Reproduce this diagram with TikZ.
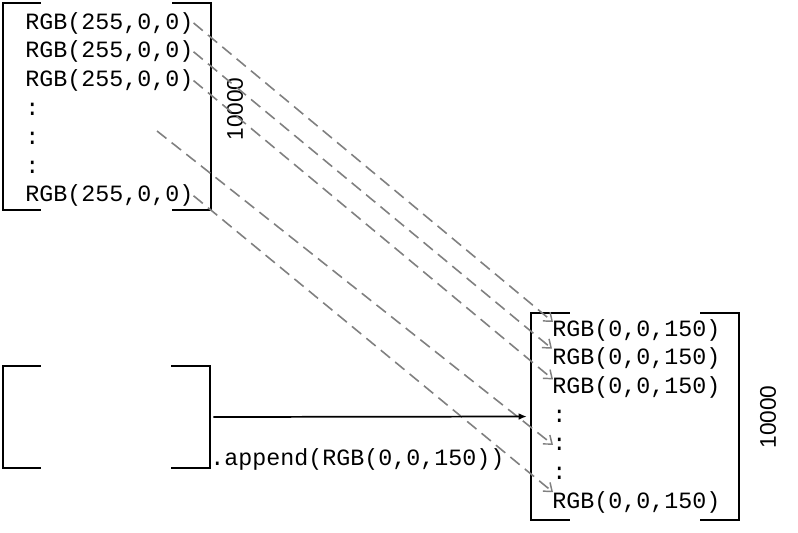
\documentclass[tikz,border=0pt]{standalone}
\usepackage{fontspec}
\setmonofont{Liberation Mono}
\setsansfont{Liberation Sans}
\usetikzlibrary{arrows.meta,fit,calc}
\tikzset{
  code/.style={anchor=base west, inner sep=0pt, font=\fontsize{17.5}{21}\selectfont\ttfamily, text=black},
  count/.style={inner sep=0pt, rotate=90, font=\fontsize{17}{20}\selectfont\sffamily},
  area/.style={inner sep=0pt},
  bracket/.style={line width=1.6pt, black, line cap=rect},
  copyarrow/.style={draw=gray, line width=1.2pt, dash pattern=on 9pt off 5pt,
     -{Straight Barb[length=5.5pt,width=8.5pt,line width=1.1pt]}},
  pusharrow/.style={draw=black, line width=1.3pt, -{Latex[length=6pt,width=5pt]}},
}
\begin{document}
\begin{tikzpicture}[x=0.75pt,y=-0.75pt]
\useasboundingbox (0,0) rectangle (798,532);

% containers
\node[area, fit={(3,3) (211,210)}] (TL) {};
\node[area, fit={(3,366.5) (210,467.5)}] (BL) {};
\node[area, fit={(531,313) (739,520)}] (RB) {};

% brackets (tick length about 37px = 27.75pt)
\draw[bracket] ([xshift=27.75pt]TL.north west) -- (TL.north west) -- (TL.south west) -- ([xshift=27.75pt]TL.south west);
\draw[bracket] ([xshift=-28.5pt]TL.north east) -- (TL.north east) -- (TL.south east) -- ([xshift=-28.5pt]TL.south east);
\draw[bracket] ([xshift=27.75pt]BL.north west) -- (BL.north west) -- (BL.south west) -- ([xshift=27.75pt]BL.south west);
\draw[bracket] ([xshift=-28.5pt]BL.north east) -- (BL.north east) -- (BL.south east) -- ([xshift=-28.5pt]BL.south east);
\draw[bracket] ([xshift=28.5pt]RB.north west) -- (RB.north west) -- (RB.south west) -- ([xshift=28.5pt]RB.south west);
\draw[bracket] ([xshift=-28.5pt]RB.north east) -- (RB.north east) -- (RB.south east) -- ([xshift=-28.5pt]RB.south east);

% left list
\node[code] (l1) at (25,29) {RGB(255,0,0)};
\node[code] (l2) at (25,57.8) {RGB(255,0,0)};
\node[code] (l3) at (25,86.6) {RGB(255,0,0)};
\node[code] (l4) at (25,115.4) {:};
\node[code] (l5) at (25,144.2) {:};
\node[code] (l6) at (25,173) {:};
\node[code] (l7) at (25,201.8) {RGB(255,0,0)};
\node[count] (n1) at (235,109) {10000};

% right list
\node[code] (r1) at (552,336) {RGB(0,0,150)};
\node[code] (r2) at (552,364.7) {RGB(0,0,150)};
\node[code] (r3) at (552,393.4) {RGB(0,0,150)};
\node[code] (r4) at (552,422.1) {:};
\node[code] (r5) at (552,450.8) {:};
\node[code] (r6) at (552,479.5) {:};
\node[code] (r7) at (552,508.2) {RGB(0,0,150)};
\node[count] (n2) at (768,417) {10000};

% append label
\node[code] (ap) at (210,465) {.append(RGB(0,0,150))};

% connectors
\coordinate (s4) at (157,131);
\draw[copyarrow] (l1.east) -- ([shift={(1,-14)}]r1.base west);
\draw[copyarrow] (l2.east) -- ([shift={(0,-16)}]r2.base west);
\draw[copyarrow] (l3.east) -- ([shift={(1,-14)}]r3.base west);
\draw[copyarrow] (s4) -- ([shift={(1,-6)}]r5.base west);
\draw[copyarrow] (l7.east) -- ([shift={(1,-16)}]r7.base west);
\draw[pusharrow, shorten <=2.25pt, shorten >=3pt] (BL.east) -- (RB.west);
\end{tikzpicture}
\end{document}
